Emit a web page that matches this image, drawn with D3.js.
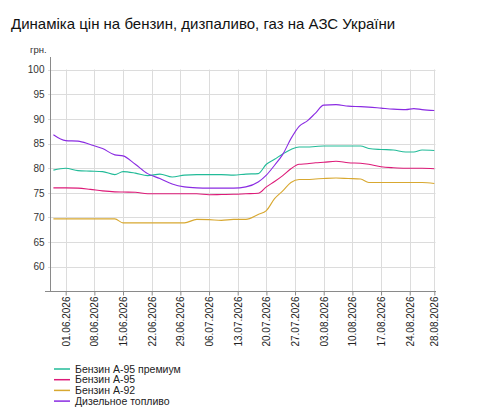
<!DOCTYPE html>
<html lang="uk">
<head>
<meta charset="utf-8" />
<title>Динаміка цін на АЗС</title>
<script src="https://cdn.jsdelivr.net/npm/d3@7"></script>
<style>
  body { margin: 0; background: #fff; }
</style>
</head>
<body>
<svg id="chart" width="490" height="418"></svg>
<script>
// days counted from 29.05.2026
const startDate = new Date(2026, 4, 29);
const dayOffsets = [0, 3, 6, 9, 12, 15, 17, 20, 23, 26, 29, 32, 35, 38, 41, 44, 47, 50,
  52, 54, 56, 58, 60, 62, 64, 66, 69, 72, 75, 77, 80, 83, 86, 88, 90, 93];

const premium95 = [79.6, 80.0, 79.5, 79.4, 79.3, 78.7, 79.3, 79.0, 78.5, 78.8, 78.2, 78.6, 78.7, 78.7, 78.7, 78.6, 78.8, 78.9,
  80.8, 81.8, 82.9, 83.8, 84.3, 84.3, 84.4, 84.5, 84.5, 84.5, 84.5, 84.0, 83.8, 83.7, 83.3, 83.3, 83.7, 83.6];
const petrol95 = [76.0, 76.0, 75.95, 75.7, 75.4, 75.2, 75.15, 75.1, 74.8, 74.8, 74.8, 74.8, 74.8, 74.6, 74.65, 74.7, 74.8, 74.9,
  76.2, 77.3, 78.5, 79.9, 80.8, 80.9, 81.1, 81.2, 81.4, 81.1, 81.0, 80.8, 80.3, 80.1, 80.0, 80.0, 80.0, 79.9];
const petrol92 = [69.7, 69.7, 69.7, 69.7, 69.7, 69.7, 68.9, 68.9, 68.9, 68.9, 68.9, 68.9, 69.6, 69.55, 69.4, 69.6, 69.6, 70.6,
  71.4, 73.8, 75.4, 77.1, 77.7, 77.7, 77.8, 77.9, 78.0, 77.9, 77.8, 77.1, 77.1, 77.1, 77.1, 77.1, 77.1, 76.9];
const diesel = [86.8, 85.6, 85.5, 84.8, 84.0, 82.7, 82.5, 80.8, 78.9, 77.9, 76.8, 76.2, 76.0, 75.95, 75.95, 75.95, 76.2, 77.2,
  78.6, 80.6, 82.8, 86.0, 88.5, 89.6, 91.2, 92.8, 92.9, 92.6, 92.5, 92.4, 92.2, 92.0, 91.9, 92.1, 91.9, 91.7];

const seriesNames = ["Бензин А-95 премиум", "Бензин А-95", "Бензин А-92", "Дизельное топливо"];
const seriesColors = ["#22bb98", "#dd1a78", "#d8a830", "#8a2be2"];

const tickDays = [3, 10, 17, 24, 31, 38, 45, 52, 59, 66, 73, 80, 87, 93];
const tickLabels = ["01.06.2026", "08.06.2026", "15.06.2026", "22.06.2026", "29.06.2026", "06.07.2026",
  "13.07.2026", "20.07.2026", "27.07.2026", "03.08.2026", "10.08.2026", "17.08.2026", "24.08.2026", "28.08.2026"];
const yTicks = [60, 65, 70, 75, 80, 85, 90, 95, 100];

const font = "'Liberation Sans', Arial, sans-serif";
const svg = d3.select("#chart").attr("font-family", font);

const dayToDate = (n) => d3.timeDay.offset(startDate, n);
const dates = dayOffsets.map(dayToDate);
const series = [premium95, petrol95, petrol92, diesel];

const xScale = d3.scaleTime()
  .domain([dayToDate(0), dayToDate(93)])
  .range([53.4, 434.3]);
const yScale = d3.scaleLinear().domain([55, 100]).range([291.3, 69.7]);

// title
svg.append("text")
  .attr("x", 11).attr("y", 29)
  .attr("font-size", "15px")
  .attr("fill", "#111")
  .text("Динаміка цін на бензин, дизпаливо, газ на АЗС України");

// grid
const grid = svg.append("g");
grid.selectAll(".hgrid").data(yTicks).enter().append("line")
  .attr("x1", 48).attr("x2", 435.5)
  .attr("y1", (d) => Math.round(yScale(d)) + 0.5)
  .attr("y2", (d) => Math.round(yScale(d)) + 0.5)
  .attr("stroke", "#dcdcdc");
grid.selectAll(".vgrid").data(tickDays).enter().append("line")
  .attr("x1", (d) => Math.round(xScale(dayToDate(d))) + 0.5)
  .attr("x2", (d) => Math.round(xScale(dayToDate(d))) + 0.5)
  .attr("y1", 69.5).attr("y2", 291)
  .attr("stroke", "#dcdcdc");

// y axis
const yAxis = svg.append("g")
  .attr("transform", "translate(50.5,0)")
  .call(d3.axisLeft(yScale).tickValues(yTicks).tickSize(3).tickPadding(3));
yAxis.select(".domain").remove();
yAxis.selectAll(".tick line").remove();
yAxis.selectAll("text").attr("font-size", "10px").attr("fill", "#333").attr("font-family", font);
svg.append("line")
  .attr("x1", 50.5).attr("x2", 50.5).attr("y1", 57).attr("y2", 291.5)
  .attr("stroke", "#8a8a8a");
svg.append("text")
  .attr("x", 30).attr("y", 53)
  .attr("font-size", "9.5px").attr("fill", "#333")
  .text("грн.");

// x axis
const xAxis = svg.append("g")
  .attr("transform", "translate(0,291.5)")
  .call(d3.axisBottom(xScale)
    .tickValues(tickDays.map(dayToDate))
    .tickFormat((d, i) => tickLabels[i])
    .tickSize(4));
xAxis.select(".domain").remove();
xAxis.selectAll(".tick line").attr("stroke", "#8a8a8a");
xAxis.selectAll("text")
  .attr("font-size", "10px").attr("fill", "#222").attr("font-family", font)
  .attr("transform", "rotate(-90)")
  .attr("text-anchor", "end")
  .attr("x", -5).attr("y", 0).attr("dy", "0.35em");
svg.append("line")
  .attr("x1", 45).attr("x2", 436).attr("y1", 291.5).attr("y2", 291.5)
  .attr("stroke", "#8a8a8a");

// lines
const line = d3.line()
  .x((d, i) => xScale(dates[i]))
  .y((d) => yScale(d))
  .curve(d3.curveMonotoneX);

svg.selectAll(".line-path").data(series).enter().append("path")
  .attr("class", "line-path")
  .attr("d", (d) => line(d))
  .attr("fill", "none")
  .attr("stroke", (d, i) => seriesColors[i])
  .attr("stroke-width", 1.1);

// legend
const legend = svg.append("g").attr("transform", "translate(54,369)");
legend.selectAll(".legend-item").data(seriesNames).enter().append("g")
  .attr("class", "legend-item")
  .attr("transform", (d, i) => `translate(0, ${i * 10.7})`)
  .call((g) => {
    g.append("line")
      .attr("x1", 0).attr("x2", 16).attr("y1", 0).attr("y2", 0)
      .attr("stroke", (d, i) => seriesColors[i])
      .attr("stroke-width", 1.5);
    g.append("text")
      .attr("x", 21).attr("y", 3.5)
      .attr("font-size", "10.5px").attr("fill", "#222")
      .text((d) => d);
  });
</script>
</body>
</html>
